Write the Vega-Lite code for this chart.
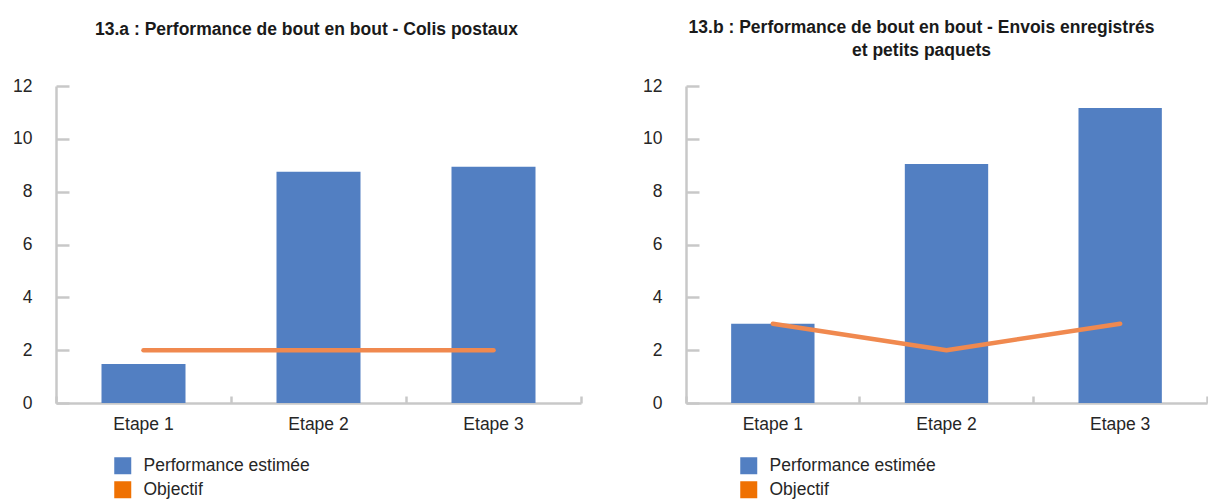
{
  "$schema": "https://vega.github.io/schema/vega-lite/v6.json",
  "padding": {"left": 12, "top": 18, "right": 0, "bottom": 0},
  "background": "white",
  "config": {
    "font": "Liberation Sans",
    "view": {"stroke": null},
    "axis": {
      "labelFont": "Liberation Sans",
      "labelFontSize": 17.5,
      "labelColor": "#262626",
      "domainColor": "#c8c8c8",
      "domainWidth": 2.5,
      "tickColor": "#c8c8c8",
      "tickWidth": 2.5,
      "grid": false,
      "title": null
    },
    "legend": {
      "orient": "none",
      "direction": "vertical",
      "title": null,
      "symbolType": "square",
      "symbolSize": 289,
      "symbolStrokeWidth": 0,
      "labelFont": "Liberation Sans",
      "labelFontSize": 17.5,
      "labelColor": "#262626",
      "labelOffset": 12,
      "labelLimit": 0,
      "rowPadding": 5,
      "padding": 0
    },
    "title": {
      "font": "Liberation Sans",
      "fontWeight": "bold",
      "fontSize": 17.5,
      "color": "#1a1a1a",
      "anchor": "middle",
      "lineHeight": 23
    }
  },
  "datasets": {
    "d": [
      {"panel": "a", "etape": "Etape 1", "serie": "Performance estimée", "value": 1.48},
      {"panel": "a", "etape": "Etape 2", "serie": "Performance estimée", "value": 8.75},
      {"panel": "a", "etape": "Etape 3", "serie": "Performance estimée", "value": 8.94},
      {"panel": "a", "etape": "Etape 1", "serie": "Objectif", "value": 2},
      {"panel": "a", "etape": "Etape 2", "serie": "Objectif", "value": 2},
      {"panel": "a", "etape": "Etape 3", "serie": "Objectif", "value": 2},
      {"panel": "b", "etape": "Etape 1", "serie": "Performance estimée", "value": 3.0},
      {"panel": "b", "etape": "Etape 2", "serie": "Performance estimée", "value": 9.05},
      {"panel": "b", "etape": "Etape 3", "serie": "Performance estimée", "value": 11.17},
      {"panel": "b", "etape": "Etape 1", "serie": "Objectif", "value": 3},
      {"panel": "b", "etape": "Etape 2", "serie": "Objectif", "value": 2},
      {"panel": "b", "etape": "Etape 3", "serie": "Objectif", "value": 3}
    ]
  },
  "spacing": 59,
  "resolve": {"scale": {"color": "independent"}, "legend": {"color": "independent"}},
  "hconcat": [
    {
      "width": 525,
      "height": 317,
      "title": {"text": "13.a : Performance de bout en bout - Colis postaux", "dx": -12, "offset": 39},
      "data": {"name": "d"},
      "transform": [{"filter": "datum.panel == 'a'"}],
      "encoding": {
        "x": {
          "field": "etape", "type": "nominal",
          "scale": {"paddingInner": 0, "paddingOuter": 0},
          "axis": {"labelAngle": 0, "bandPosition": 1, "tickExtra": true, "tickSize": -7, "labelPadding": 19}
        }
      },
      "layer": [
        {
          "transform": [{"filter": "datum.serie == 'Performance estimée'"}],
          "mark": {"type": "bar", "width": {"band": 0.48}},
          "encoding": {
            "y": {"field": "value", "type": "quantitative", "scale": {"domain": [0, 12], "nice": false},
                  "axis": {"values": [0, 2, 4, 6, 8, 10, 12], "tickSize": -13, "labelPadding": 37}},
            "color": {"field": "serie", "type": "nominal",
                      "scale": {"domain": ["Performance estimée", "Objectif"], "range": ["#527fc2", "#ef7102"]},
                      "legend": {"legendX": 58, "legendY": 371}}
          }
        },
        {
          "transform": [{"filter": "datum.serie == 'Objectif'"}],
          "mark": {"type": "line", "color": "#f0894f", "strokeWidth": 4.5, "strokeCap": "round", "strokeJoin": "round"},
          "encoding": {
            "y": {"field": "value", "type": "quantitative"}
          }
        }
      ]
    },
    {
      "width": 521,
      "height": 317,
      "title": {"text": ["13.b : Performance de bout en bout - Envois enregistrés", "et petits paquets"], "dx": -25, "offset": 18},
      "data": {"name": "d"},
      "transform": [{"filter": "datum.panel == 'b'"}],
      "encoding": {
        "x": {
          "field": "etape", "type": "nominal",
          "scale": {"paddingInner": 0, "paddingOuter": 0},
          "axis": {"labelAngle": 0, "bandPosition": 1, "tickExtra": true, "tickSize": -7, "labelPadding": 19}
        }
      },
      "layer": [
        {
          "transform": [{"filter": "datum.serie == 'Performance estimée'"}],
          "mark": {"type": "bar", "width": {"band": 0.48}},
          "encoding": {
            "y": {"field": "value", "type": "quantitative", "scale": {"domain": [0, 12], "nice": false},
                  "axis": {"values": [0, 2, 4, 6, 8, 10, 12], "tickSize": -13, "labelPadding": 37}},
            "color": {"field": "serie", "type": "nominal",
                      "scale": {"domain": ["Performance estimée", "Objectif"], "range": ["#527fc2", "#ef7102"]},
                      "legend": {"legendX": 54, "legendY": 371}}
          }
        },
        {
          "transform": [{"filter": "datum.serie == 'Objectif'"}],
          "mark": {"type": "line", "color": "#f0894f", "strokeWidth": 4.5, "strokeCap": "round", "strokeJoin": "round"},
          "encoding": {
            "y": {"field": "value", "type": "quantitative"}
          }
        }
      ]
    }
  ]
}
